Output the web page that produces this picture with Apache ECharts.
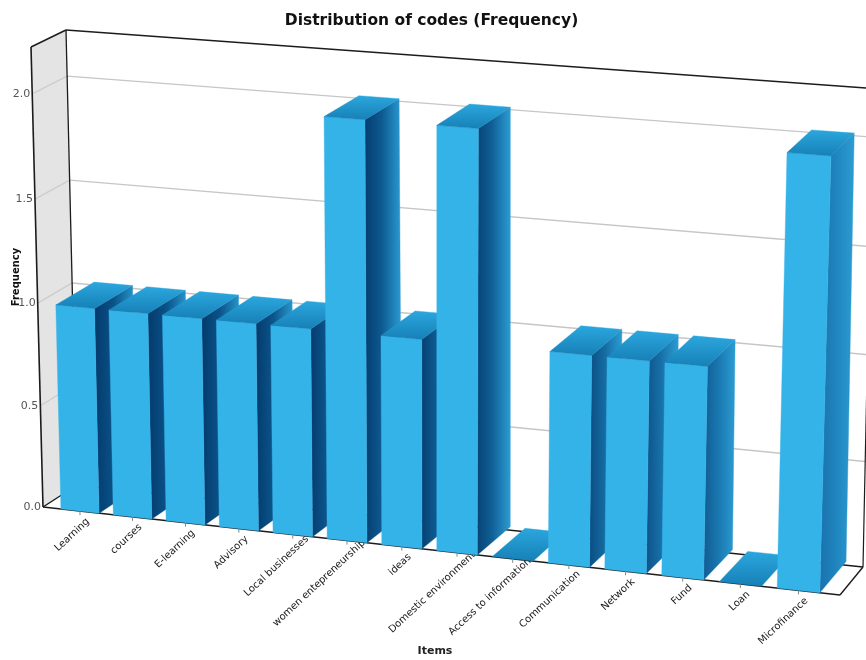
<!DOCTYPE html>
<html>
<head>
<meta charset="utf-8">
<style>html,body{margin:0;padding:0;background:#fff}#c{width:866px;height:660px}</style>
<script src="https://cdn.jsdelivr.net/npm/echarts@6/dist/echarts.min.js"></script>
</head>
<body>
<div id="c"></div>
<script>
const categories = ['Learning','courses','E-learning','Advisory','Local businesses','women entepreneurship','ideas','Domestic environment','Access to information','Communication','Network','Fund','Loan','Microfinance'];
const frequency = [1,1,1,1,1,2,1,2,0,1,1,1,0,2];
const yTicks = [0,0.5,1,1.5,2];
const yTickLabels = ['0.0','0.5','1.0','1.5','2.0'];
const yMax = 2.22;

const chartTitle = 'Distribution of codes (Frequency)';
const xName = 'Items';
const yName = 'Frequency';

// Camera: where the eight corners of the plot box land on the page.
const GRID = {x:43, y:47, w:797, h:460};
const PAD = 0.0145;           // empty margin at both ends of the category axis
const BAR = 0.73;             // bar width as a share of the category band
const BAR_DEPTH = 1.12;       // bars reach slightly past the back wall plane
const FRONT = hom([[43,507],[840,595],[853,108],[31,47]]);
const BACK  = hom([[77,485],[863,567],[873,88.5],[66,30]]);

function hom(q){
  const [x0,y0]=q[0],[x1,y1]=q[1],[x2,y2]=q[2],[x3,y3]=q[3];
  const dx1=x1-x2,dx2=x3-x2,sx=x0-x1+x2-x3,dy1=y1-y2,dy2=y3-y2,sy=y0-y1+y2-y3;
  const den=dx1*dy2-dx2*dy1;
  const g=(sx*dy2-dx2*sy)/den,h=(dx1*sy-sx*dy1)/den;
  const a=x1-x0+g*x1,b=x3-x0+h*x3,d=y1-y0+g*y1,e=y3-y0+h*y3;
  return (u,v)=>{const w=g*u+h*v+1;return [(a*u+b*v+x0)/w,(d*u+e*v+y0)/w];};
}
function raw(u,v,w){const f=FRONT(u,v),b=BACK(u,v);return [f[0]+(b[0]-f[0])*w,f[1]+(b[1]-f[1])*w];}
// grid pixel -> page pixel on the depth plane w (0 front, 1 back)
function proj(px,py,w){
  return raw(PAD+(px-GRID.x)/GRID.w*(1-2*PAD),(GRID.y+GRID.h-py)/GRID.h,w);
}
function poly(points,fill){return {type:'polygon',shape:{points},style:{fill,stroke:fill,lineWidth:0.4}};}
function line(a,b,stroke,lineWidth){return {type:'line',shape:{x1:a[0],y1:a[1],x2:b[0],y2:b[1]},style:{stroke,lineWidth}};}
const grad=(x,y,x2,y2,stops)=>new echarts.graphic.LinearGradient(x,y,x2,y2,stops);

const EDGE='#1c1c1c';
function renderFrame(){
  return {type:'group',children:[poly([raw(0,0,0),raw(0,1,0),raw(0,1,1),raw(0,0,1)],'#e4e4e4')]};
}
function renderGrid(params,api){
  const pt=api.coord([0,api.value(0)]);
  const v=(GRID.y+GRID.h-pt[1])/GRID.h;
  const kids=[];
  if(v>0){
    kids.push(line(raw(0,v,0),raw(0,v,1),'#cdcdcd',1.4));
    kids.push(line(raw(0,v,1),raw(1,v,1),'#c6c6c6',1.4));
  }
  const a=raw(0,v,0);
  kids.push({type:'text',x:a[0]-2,y:a[1],style:{text:yTickLabels[params.dataIndex],align:'right',verticalAlign:'middle',fill:'#555',font:'11px "DejaVu Sans"'}});
  return {type:'group',children:kids};
}
function renderEdges(){
  const c=raw;
  return {type:'group',children:[
    line(c(0,1,0),c(0,1,1),EDGE,1.5),
    line(c(0,1,1),c(1,1,1),EDGE,1.5),
    line(c(0,1,0),c(0,0,0),EDGE,1.6),
    line(c(0,1,1),c(0,0,1),EDGE,1.3),
    line(c(0,0,0),c(0,0,1),EDGE,1.4),
    line(c(0,0,1),c(1,0,1),EDGE,1.4),
    line(c(0,0,0),c(1,0,0),EDGE,1.6),
    line(c(1,0,0),c(1,0,1),EDGE,1.4),
    line(c(1,0,1),c(1,1,1),EDGE,1.2)
  ]};
}
const LABEL_ANGLE=43*Math.PI/180;
function renderLabel(params,api){
  const i=api.value(0);
  const pt=api.coord([i,0]);
  const a=proj(pt[0],pt[1],0);
  // long labels run further up under the bars
  const along=Math.min(12,Math.max(0,categories[i].length-12)*2.2);
  return {type:'group',children:[
    line(a,[a[0],a[1]+4],'#888',1),
    {type:'text',x:a[0]+8+along*Math.cos(LABEL_ANGLE),y:a[1]+9-along*Math.sin(LABEL_ANGLE),rotation:LABEL_ANGLE,
     style:{text:categories[i],align:'right',verticalAlign:'middle',fill:'#1a1a1a',font:'10px "DejaVu Sans"'}}
  ]};
}
function renderBar(params,api){
  const i=api.value(0),val=api.value(1);
  const p0=api.coord([i,0]),p1=api.coord([i,val]);
  const hw=api.size([1,0])[0]*BAR/2;
  const xl=p0[0]-hw,xr=p0[0]+hw;
  const fbl=proj(xl,p0[1],0),fbr=proj(xr,p0[1],0),ftl=proj(xl,p1[1],0),ftr=proj(xr,p1[1],0);
  const bbr=proj(xr,p0[1],BAR_DEPTH),btl=proj(xl,p1[1],BAR_DEPTH),btr=proj(xr,p1[1],BAR_DEPTH);
  const t=i/(categories.length-1);
  const sideStart=echarts.color.lerp(t*t*t,['#043a6c','#1a72ad']);
  const kids=[];
  if(val>0){
    kids.push(poly([fbr,ftr,btr,bbr],grad(0,0,1,0,[{offset:0,color:sideStart},{offset:0.45,color:echarts.color.lerp(t*t,['#0a5288','#1f84bd'])},{offset:1,color:'#2b9dd3'}])));
    kids.push(poly([fbl,fbr,ftr,ftl],'#34b3e9'));
  }
  kids.push(poly([ftl,ftr,btr,btl],grad(0,1,0,0,[{offset:0,color:'#1680b6'},{offset:1,color:'#2ba7de'}])));
  return {type:'group',children:kids};
}

const chart=echarts.init(document.getElementById('c'),null,{renderer:'canvas'});
chart.setOption({
  animation:false,
  backgroundColor:'#fff',
  title:{text:chartTitle,left:426.5,top:8,textAlign:'center',textStyle:{fontFamily:'DejaVu Sans',fontWeight:'bold',fontSize:15.5,color:'#111'}},
  grid:{left:GRID.x,top:GRID.y,width:GRID.w,height:GRID.h,containLabel:false},
  xAxis:{type:'category',data:categories,show:false,boundaryGap:true},
  yAxis:{type:'value',min:0,max:yMax,show:false},
  graphic:[
    {type:'text',x:435,y:651,z:10,style:{text:xName,align:'center',verticalAlign:'middle',fill:'#222',font:'bold 11px "DejaVu Sans"'}},
    {type:'text',x:16,y:277,rotation:Math.PI/2,z:10,style:{text:yName,align:'center',verticalAlign:'middle',fill:'#111',font:'bold 10px "DejaVu Sans"'}}
  ],
  series:[
    {type:'custom',name:'walls',z:1,silent:true,clip:false,data:[0],renderItem:renderFrame},
    {type:'custom',name:'yTicks',z:2,silent:true,clip:false,data:yTicks.map(t=>[t]),encode:{y:0},renderItem:renderGrid},
    {type:'custom',name:'edges',z:3,silent:true,clip:false,data:[0],renderItem:renderEdges},
    {type:'custom',name:'xLabels',z:4,silent:true,clip:false,data:categories.map((_,i)=>[i]),encode:{x:0},renderItem:renderLabel},
    {type:'custom',name:'Frequency',z:5,clip:false,data:frequency.map((v,i)=>[i,v]),encode:{x:0,y:1},renderItem:renderBar}
  ]
});
</script>
</body>
</html>
